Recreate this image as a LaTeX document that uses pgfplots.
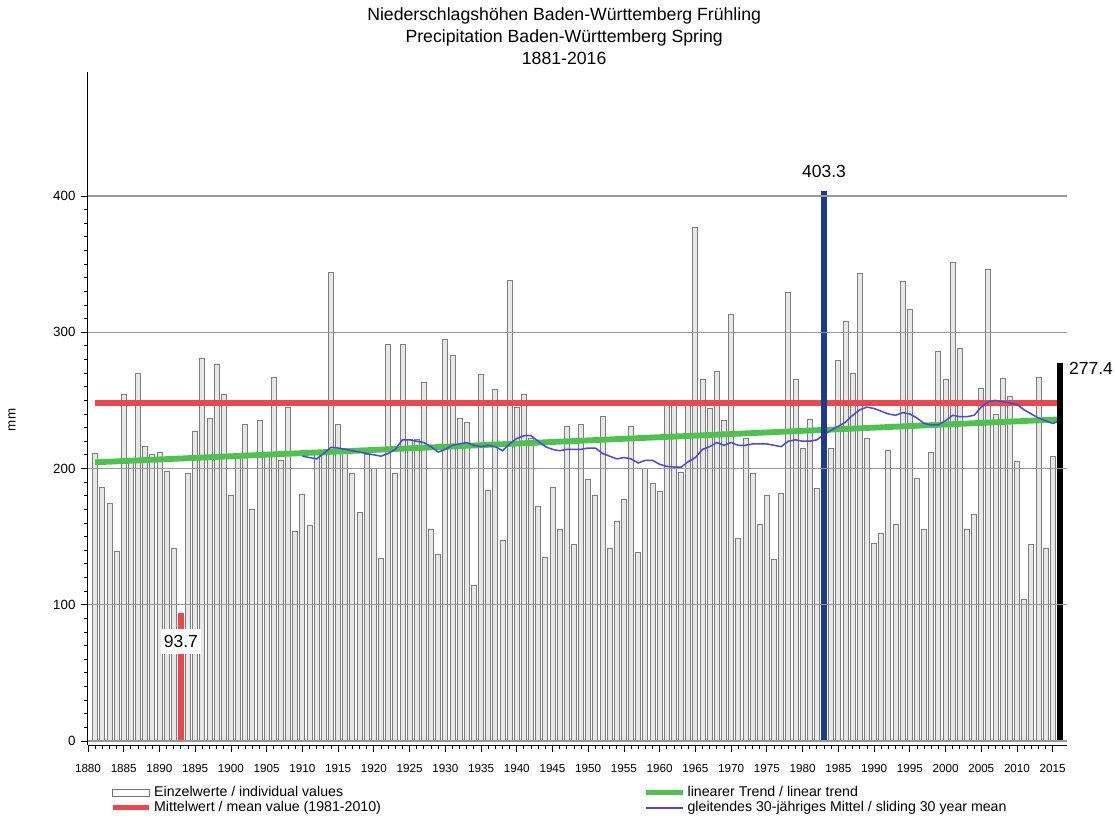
\documentclass[border=0pt]{standalone}
\usepackage{fontspec}
\setmainfont{Liberation Sans}
\usepackage{pgfplots}
\pgfplotsset{compat=1.18}
\usetikzlibrary{calc}

\definecolor{mred}{RGB}{234,72,78}
\definecolor{mgreen}{RGB}{78,194,78}
\definecolor{mblue}{RGB}{72,72,220}
\definecolor{mnavy}{RGB}{32,58,132}
\definecolor{barfill}{RGB}{232,232,232}
\definecolor{bardraw}{RGB}{125,125,125}

\begin{document}
\begin{tikzpicture}[font=\fontsize{8}{9.6}\selectfont]
\begin{axis}[
  scale only axis, width=587.4pt, height=403.8pt,
  xmin=1880, xmax=2017, ymin=-3, ymax=491,
  clip=false,
  axis lines=left, axis line style={-, black, line width=0.6pt},
  axis on top,
  xtick={1880,1885,...,2015}, minor x tick num=4,
  ytick={0,100,...,400}, minor y tick num=9,
  tick align=outside, tick style={black, line width=0.5pt},
  major tick length=4pt, minor tick length=2.5pt,
  ymajorgrids, grid style={black!40, line width=0.7pt},
  x tick label style={font=\fontsize{7}{8}\selectfont, /pgf/number format/1000 sep=, /pgf/number format/assume math mode=true, yshift=-4pt},
  y tick label style={font=\fontsize{8}{9}\selectfont, /pgf/number format/assume math mode=true},
  legend columns=2,
  legend cell align=left,
  legend style={draw=none, fill=none, inner sep=0pt, at={(axis description cs:0,0)}, anchor=north west,
    xshift=13pt, yshift=-24pt, font=\fontsize{8.5}{9}\selectfont,
    nodes={inner xsep=1.5pt, inner ysep=0.5pt, text height=6.2pt, text depth=1.8pt},
    row sep=0pt, /tikz/every even column/.append style={column sep=156pt}},
]
% legend entries (drawn by hand so the order matches the reference)
\addlegendimage{legend image code/.code={\draw[fill=white, draw=black!55, line width=0.5pt] (0pt,-2.2pt) rectangle (22pt,2.2pt);}}
\addlegendentry{Einzelwerte / individual values}
\addlegendimage{legend image code/.code={\draw[mgreen, line width=3pt] (0pt,0pt) -- (22pt,0pt);}}
\addlegendentry{linearer Trend / linear trend}
\addlegendimage{legend image code/.code={\draw[mred, line width=3pt] (0pt,0pt) -- (22pt,0pt);}}
\addlegendentry{Mittelwert / mean value (1981-2010)}
\addlegendimage{legend image code/.code={\draw[mblue, line width=0.9pt] (0pt,0pt) -- (22pt,0pt);}}
\addlegendentry{gleitendes 30-jähriges Mittel / sliding 30 year mean}

% spring precipitation, mm
\addplot[ybar, bar width=0.7, bar shift=0pt, fill=barfill, draw=bardraw, line width=0.5pt, forget plot] coordinates {
(1881,211) (1882,186) (1883,174) (1884,139) (1885,254) (1886,205) (1887,270) (1888,216) (1889,210) (1890,212)
(1891,198) (1892,141) (1893,93.7) (1894,196) (1895,227) (1896,281) (1897,237) (1898,276) (1899,254) (1900,180)
(1901,208) (1902,232) (1903,170) (1904,235) (1905,212) (1906,267) (1907,206) (1908,245) (1909,154) (1910,181)
(1911,158) (1912,210) (1913,213) (1914,344) (1915,232) (1916,215) (1917,196) (1918,168) (1919,210) (1920,200)
(1921,134) (1922,291) (1923,196) (1924,291) (1925,221) (1926,221) (1927,263) (1928,155) (1929,137) (1930,295)
(1931,283) (1932,237) (1933,234) (1934,114) (1935,269) (1936,184) (1937,258) (1938,147) (1939,338) (1940,245)
(1941,254) (1942,222) (1943,172) (1944,135) (1945,186) (1946,155) (1947,231) (1948,144) (1949,232) (1950,192)
(1951,180) (1952,238) (1953,141) (1954,161) (1955,177) (1956,231) (1957,138) (1958,200) (1959,189) (1960,183)
(1961,250) (1962,250) (1963,197) (1964,246) (1965,377) (1966,265) (1967,244) (1968,271) (1969,235) (1970,313)
(1971,149) (1972,222) (1973,196) (1974,159) (1975,180) (1976,133) (1977,182) (1978,329) (1979,265) (1980,215)
(1981,236) (1982,185) (1983,403.3) (1984,215) (1985,279) (1986,308) (1987,270) (1988,343) (1989,222) (1990,145)
(1991,152) (1992,213) (1993,159) (1994,337) (1995,317) (1996,193) (1997,155) (1998,212) (1999,286) (2000,265)
(2001,351) (2002,288) (2003,155) (2004,166) (2005,259) (2006,346) (2007,240) (2008,266) (2009,253) (2010,205)
(2011,104) (2012,144) (2013,267) (2014,141) (2015,209) (2016,277.4)
};

% mean value 1981-2010
\addplot[mred, line width=4pt, forget plot] coordinates {(1881,248) (2016,248)};
% linear trend
\addplot[mgreen, line width=3.5pt, forget plot] coordinates {(1881,204.5) (2016,236)};
% sliding 30 year mean
\addplot[mblue, line width=0.9pt, forget plot] coordinates {
(1910,209) (1911,208) (1912,207) (1913,211) (1914,215.5) (1915,215) (1916,214) (1917,213) (1918,212) (1919,211)
(1920,210) (1921,209) (1922,211) (1923,214) (1924,221) (1925,221) (1926,220) (1927,219) (1928,216) (1929,212)
(1930,214) (1931,217) (1932,218) (1933,219) (1934,217) (1935,216) (1936,217) (1937,216) (1938,213) (1939,218)
(1940,222) (1941,224) (1942,224) (1943,220) (1944,216) (1945,214) (1946,213) (1947,214) (1948,214) (1949,214)
(1950,215) (1951,215) (1952,211) (1953,209) (1954,207) (1955,208) (1956,207) (1957,204) (1958,206) (1959,206)
(1960,203) (1961,201.5) (1962,201) (1963,201) (1964,205) (1965,208) (1966,214) (1967,216) (1968,219) (1969,217)
(1970,219) (1971,217) (1972,217) (1973,218) (1974,218) (1975,218) (1976,217) (1977,216) (1978,220) (1979,221)
(1980,220) (1981,220) (1982,221) (1983,225) (1984,228) (1985,231) (1986,234) (1987,239) (1988,243) (1989,245)
(1990,244) (1991,242) (1992,240) (1993,239) (1994,241) (1995,240) (1996,237) (1997,233) (1998,232) (1999,232)
(2000,235) (2001,239) (2002,238) (2003,238) (2004,239) (2005,245) (2006,249) (2007,250) (2008,249) (2009,248)
(2010,247) (2011,243) (2012,240) (2013,237) (2014,235) (2015,233) (2016,235)
};

% minimum, maximum and latest value
\addplot[ybar, bar width=0.7, bar shift=0pt, fill=mred, draw=mred, forget plot] coordinates {(1893,93.7)};
\addplot[ybar, bar width=0.7, bar shift=0pt, fill=mnavy, draw=mnavy, forget plot] coordinates {(1983,403.3)};
\addplot[ybar, bar width=0.7, bar shift=0pt, fill=black, draw=black, forget plot] coordinates {(2016,277.4)};

\node[font=\fontsize{10.5}{12}\selectfont, fill=white, inner xsep=2pt, inner ysep=4pt] at (axis cs:1893,93.7) [yshift=-17pt] {93.7};
\node[font=\fontsize{10.5}{12}\selectfont] at (axis cs:1983,403.3) [yshift=11.7pt] {403.3};
\node[font=\fontsize{10.5}{12}\selectfont, anchor=west] at (axis cs:2016,277.4) [xshift=2pt, yshift=-3pt] {277.4};

\node[rotate=90, font=\fontsize{8}{9}\selectfont] at ($(axis description cs:0,0.483)+(-45.6pt,0pt)$) {mm};
\node[anchor=south, inner sep=0pt, align=center, font=\fontsize{10.6}{13.2}\selectfont] at (axis description cs:0.5,1) [xshift=-8pt, yshift=4.2pt]
  {Niederschlagshöhen Baden-Württemberg Frühling\\Precipitation Baden-Württemberg Spring\\1881-2016};
\end{axis}
\pgfresetboundingbox
\path ($(current axis.south west)+(-52.8pt,-46.2pt)$) rectangle ($(current axis.north east)+(28.8pt,43.2pt)$);
\end{tikzpicture}
\end{document}
